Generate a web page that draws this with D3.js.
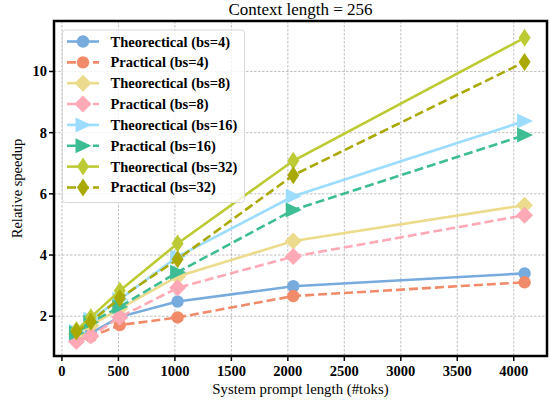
<!DOCTYPE html>
<html>
<head>
<meta charset="utf-8">
<script src="https://cdn.jsdelivr.net/npm/d3@7"></script>
<style>
  body { margin: 0; background: #fff; }
  text { font-family: "Liberation Serif", "Times New Roman", serif; }
</style>
</head>
<body>
<div id="chart"></div>
<script>
// data
var promptLens = [128, 256, 512, 1024, 2048, 4096];
var theo4 = [1.35, 1.45, 1.98, 2.48, 2.98, 3.40];
var prac4 = [1.20, 1.33, 1.71, 1.96, 2.66, 3.11];
var theo8 = [1.42, 1.70, 2.25, 3.30, 4.46, 5.63];
var prac8 = [1.17, 1.35, 1.97, 2.93, 3.95, 5.30];
var theo16 = [1.50, 1.90, 2.55, 3.95, 5.92, 8.38];
var prac16 = [1.45, 1.80, 2.31, 3.44, 5.47, 7.92];
var theo32 = [1.55, 1.97, 2.83, 4.38, 7.08, 11.10];
var prac32 = [1.50, 1.82, 2.59, 3.86, 6.61, 10.31];
var seriesNames = ["Theorectical (bs=4)", "Practical (bs=4)", "Theorectical (bs=8)", "Practical (bs=8)",
                   "Theorectical (bs=16)", "Practical (bs=16)", "Theorectical (bs=32)", "Practical (bs=32)"];
var xTicks = [0, 500, 1000, 1500, 2000, 2500, 3000, 3500, 4000];
var yTicks = [2, 4, 6, 8, 10];

var W = 549, H = 403;
var colors = ["#77abde", "#f08a68", "#ecdb8c", "#ffa9b6", "#9cdcff", "#3ebd95", "#bccb33", "#a9a901"];
var markers = ["circle", "circle", "D", "D", "tri", "tri", "d", "d"];
var allVals = [theo4, prac4, theo8, prac8, theo16, prac16, theo32, prac32];

var series = seriesNames.map(function(n, i) {
  return { name: n, dashed: i % 2 == 1, color: colors[i], marker: markers[i],
           values: promptLens.map(function(x, j) { return {x: x, y: allVals[i][j]}; }) };
});

var svg = d3.select("#chart").append("svg")
  .attr("width", W).attr("height", H);

var pL = 54, pR = 547, pT = 21, pB = 356;

var x = d3.scaleLinear().domain([-70.4, 4294.4]).range([pL, pR]);
var y = d3.scaleLinear().domain([0.7, 11.65]).range([pB, pT]);

// grid
svg.append("g").selectAll("line").data(xTicks).enter().append("line")
  .attr("x1", function(d) { return x(d); }).attr("x2", function(d) { return x(d); })
  .attr("y1", pT).attr("y2", pB)
  .style("stroke", "#b0b0b0").style("stroke-width", 0.8).style("stroke-dasharray", "2.5,1.5");
svg.append("g").selectAll("line").data(yTicks).enter().append("line")
  .attr("y1", function(d) { return y(d); }).attr("y2", function(d) { return y(d); })
  .attr("x1", pL).attr("x2", pR)
  .style("stroke", "#b0b0b0").style("stroke-width", 0.8).style("stroke-dasharray", "2.5,1.5");

function markerPath(type, cx, cy) {
  if (type == "circle") {
    var r = 6.2;
    return "M" + (cx - r) + "," + cy + "a" + r + "," + r + " 0 1,0 " + (2 * r) + ",0a" + r + "," + r + " 0 1,0 " + (-2 * r) + ",0Z";
  }
  if (type == "D") {
    var a = 8.5;
    return "M" + cx + "," + (cy - a) + "L" + (cx + a) + "," + cy + "L" + cx + "," + (cy + a) + "L" + (cx - a) + "," + cy + "Z";
  }
  if (type == "tri") {
    return "M" + (cx + 8.5) + "," + cy + "L" + (cx - 7.5) + "," + (cy - 7.5) + "L" + (cx - 7.5) + "," + (cy + 7.5) + "Z";
  }
  // thin diamond
  return "M" + cx + "," + (cy - 9) + "L" + (cx + 6) + "," + cy + "L" + cx + "," + (cy + 9) + "L" + (cx - 6) + "," + cy + "Z";
}

var line = d3.line().x(function(d) { return x(d.x); }).y(function(d) { return y(d.y); });

var plot = svg.append("g");
series.forEach(function(s) {
  var g = plot.append("g");
  g.append("path").datum(s.values).attr("d", line)
    .style("fill", "none").style("stroke", s.color).style("stroke-width", 2.6)
    .style("stroke-dasharray", s.dashed ? "9,4" : null);
  g.selectAll("path.m").data(s.values).enter().append("path")
    .attr("class", "m")
    .attr("d", function(d) { return markerPath(s.marker, x(d.x), y(d.y)); })
    .style("fill", s.color);
});

// frame
svg.append("rect").attr("x", pL).attr("y", pT).attr("width", pR - pL).attr("height", pB - pT)
  .style("fill", "none").style("stroke", "#000").style("stroke-width", 2.5);

// x axis ticks
var xa = svg.append("g");
xa.selectAll("line").data(xTicks).enter().append("line")
  .attr("x1", function(d) { return x(d); }).attr("x2", function(d) { return x(d); })
  .attr("y1", pB).attr("y2", pB + 5).style("stroke", "#000").style("stroke-width", 1.5);
xa.selectAll("text").data(xTicks).enter().append("text")
  .attr("x", function(d) { return x(d); }).attr("y", 375.5)
  .attr("text-anchor", "middle").style("font-size", "14.5px").style("font-weight", "bold")
  .text(function(d) { return d; });

// y axis ticks
var ya = svg.append("g");
ya.selectAll("line").data(yTicks).enter().append("line")
  .attr("y1", function(d) { return y(d); }).attr("y2", function(d) { return y(d); })
  .attr("x1", pL - 5).attr("x2", pL).style("stroke", "#000").style("stroke-width", 1.5);
ya.selectAll("text").data(yTicks).enter().append("text")
  .attr("x", pL - 7).attr("y", function(d) { return y(d) + 5; })
  .attr("text-anchor", "end").style("font-size", "14.5px").style("font-weight", "bold")
  .text(function(d) { return d; });

// labels
svg.append("text").attr("x", (pL + pR) / 2).attr("y", 394)
  .attr("text-anchor", "middle").style("font-size", "14.8px")
  .text("System prompt length (#toks)");
svg.append("text").attr("transform", "translate(22," + ((pT + pB) / 2) + ") rotate(-90)")
  .attr("text-anchor", "middle").style("font-size", "14.5px")
  .text("Relative speedup");
svg.append("text").attr("x", (pL + pR) / 2).attr("y", 15)
  .attr("text-anchor", "middle").style("font-size", "17px")
  .text("Context length = 256");

// legend
var lg = svg.append("g");
lg.append("rect").attr("x", 62.5).attr("y", 30).attr("width", 182).attr("height", 172.5).attr("rx", 3)
  .style("fill", "#fff").style("fill-opacity", 0.8).style("stroke", "#d8d8d8").style("stroke-width", 1);
series.forEach(function(s, i) {
  var ly = 41.5 + i * 20.85;
  lg.append("line").attr("x1", 67).attr("x2", 99).attr("y1", ly).attr("y2", ly)
    .style("stroke", s.color).style("stroke-width", 2.6)
    .style("stroke-dasharray", s.dashed ? "9,4" : null);
  lg.append("path").attr("d", markerPath(s.marker, 83, ly)).style("fill", s.color);
  lg.append("text").attr("x", 110.5).attr("y", ly + 5)
    .style("font-size", "14.5px").style("font-weight", "bold")
    .text(s.name);
});
</script>
</body>
</html>
